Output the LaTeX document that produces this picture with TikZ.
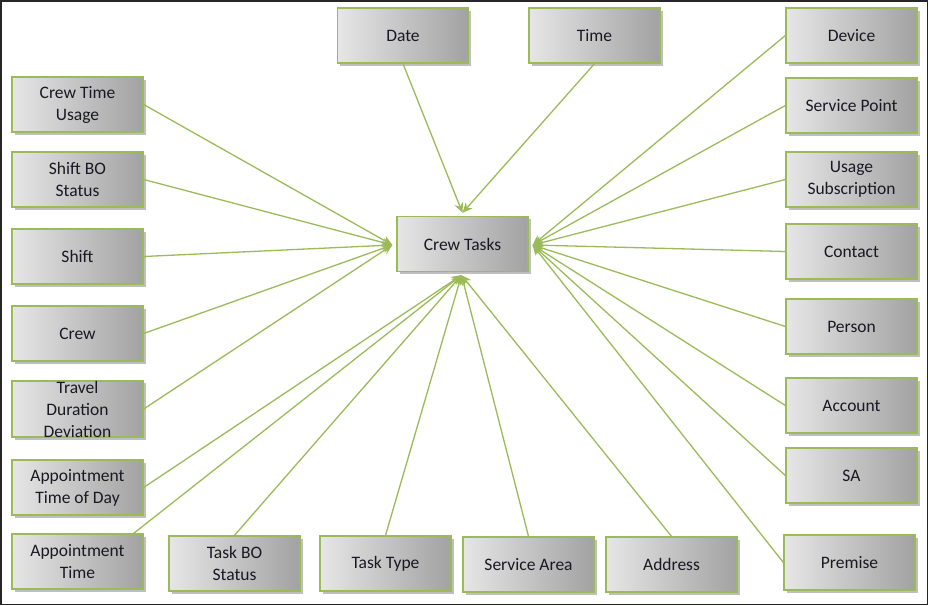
\documentclass[tikz,border=0pt]{standalone}
\usepackage{fontspec}
\setmainfont{Carlito}
\usetikzlibrary{shadows,calc,arrows.meta}
\definecolor{boxL}{RGB}{230,230,230}
\definecolor{boxR}{RGB}{162,162,162}
\definecolor{lgreen}{RGB}{155,187,89}
\definecolor{txt}{RGB}{25,25,35}
\begin{document}
\begin{tikzpicture}[x=1pt,y=-1pt,
  ent/.style={draw=lgreen, line width=1.3pt, left color=boxL, right color=boxR,
    minimum width=131pt, minimum height=55pt, inner sep=0pt, align=center,
    text=txt, font=\fontsize{17.5}{22}\selectfont,
    drop shadow={shadow xshift=2.5pt, shadow yshift=-2.5pt, fill=black, opacity=0.25}},
  conn/.style={draw=lgreen, line width=1.3pt, -{Stealth[length=10pt,width=9pt]}}]
\useasboundingbox (0,0) rectangle (928,605);
\draw[line width=1.5pt, black!85] (0.75,0.75) rectangle (927.25,604.25);

\node[ent] (ct) at (462.5,244) {Crew Tasks};
\coordinate (tL) at ($(ct.west)+(-4,1)$);
\coordinate (tR) at ($(ct.east)+(4,1)$);
\coordinate (tT) at ($(ct.north)+(0,-3)$);
\coordinate (tB) at ($(ct.south)+(-1,3)$);

\node[ent] (date) at (403,35.5) {Date};
\node[ent] (time) at (594.5,35.5) {Time};
\node[ent] (dev) at (851.5,35.5) {Device};
\node[ent] (sp) at (851.5,105.5) {Service Point};
\node[ent] (us) at (851.5,179.5) {Usage\\Subscription};
\node[ent] (con) at (851.5,251.5) {Contact};
\node[ent] (per) at (851.5,326.5) {Person};
\node[ent] (acc) at (851.5,405.5) {Account};
\node[ent] (sa) at (851.5,475.5) {SA};
\node[ent] (pre) at (849.5,562.5) {Premise};
\node[ent] (adr) at (671.5,564.5) {Address};
\node[ent] (sar) at (528.5,564.5) {Service Area};
\node[ent] (tt) at (385.5,563.5) {Task Type};
\node[ent] (tbs) at (234.5,563.5) {Task BO\\Status};
\node[ent] (apt) at (77.5,561.5) {Appointment\\Time};
\node[ent] (atd) at (77.5,487.5) {Appointment\\Time of Day};
\node[ent] (tdd) at (77.5,409) {Travel\\Duration\\Deviation};
\node[ent] (crew) at (77.5,333.5) {Crew};
\node[ent] (sh) at (77.5,256.5) {Shift};
\node[ent] (sbs) at (77.5,179.5) {Shift BO\\Status};
\node[ent] (ctu) at (77.5,104.5) {Crew Time\\Usage};

\draw[conn] (date.south) -- (tT);
\draw[conn] (time.south) -- (tT);
\draw[conn] (dev.west) -- (tR);
\draw[conn] (sp.west) -- (tR);
\draw[conn] (us.west) -- (tR);
\draw[conn] (con.west) -- (tR);
\draw[conn] (per.west) -- (tR);
\draw[conn] (acc.west) -- (tR);
\draw[conn] (sa.west) -- (tR);
\draw[conn] (pre.west) -- (tR);
\draw[conn] (adr.north) -- (tB);
\draw[conn] (sar.north) -- (tB);
\draw[conn] (tt.north) -- (tB);
\draw[conn] (tbs.north) -- (tB);
\draw[conn] ([xshift=-10pt]apt.north east) -- (tB);
\draw[conn] (atd.east) -- (tB);
\draw[conn] (tdd.east) -- (tL);
\draw[conn] (crew.east) -- (tL);
\draw[conn] (sh.east) -- (tL);
\draw[conn] (sbs.east) -- (tL);
\draw[conn] (ctu.east) -- (tL);
\end{tikzpicture}
\end{document}
